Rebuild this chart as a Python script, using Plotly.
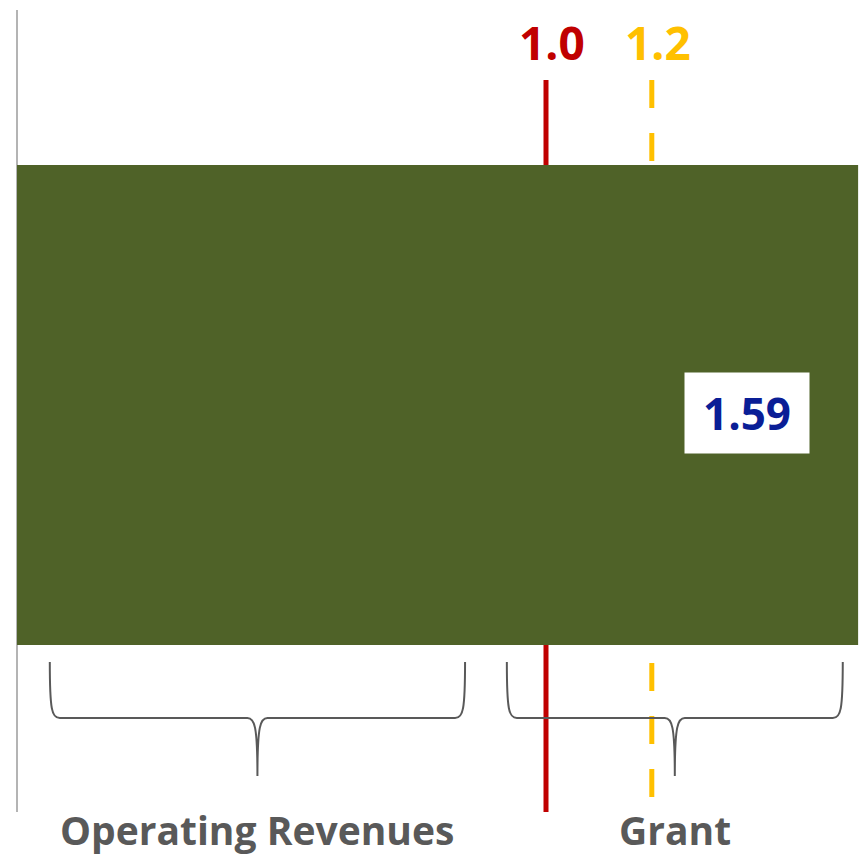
import plotly.graph_objects as go

# data
bar_names = ["Coverage ratio"]
bar_values = [1.59]
thresholds = [1.0, 1.2]
threshold_labels = ["1.0", "1.2"]
threshold_colors = ["#C00000", "#FFC000"]
threshold_dash = ["solid", "28px,25px"]
groups = ["Operating Revenues", "Grant"]
group_start = [0.062, 0.926]
group_end = [0.847, 1.561]

W, H = 859, 858
X0_PX, UNIT_PX = 17, 529          # pixel of x=0, pixels per unit
BAR_CENTER_PX = 405


def px_x(p):
    return (p - X0_PX) / UNIT_PX


def px_y(p):
    # y axis in pixel units, positive upward, 0 at bar centre
    return BAR_CENTER_PX - p


def brace_path(a, b, top, mid, bottom):
    r = 10 / UNIT_PX
    c = (a + b) / 2
    yt, ym, yb = px_y(top), px_y(mid), px_y(bottom)
    return (
        f"M {a},{yt} C {a},{ym + 8} {a + r * 0.2},{ym} {a + r},{ym} "
        f"L {c - r},{ym} C {c - r * 0.3},{ym} {c},{ym - 7} {c},{yb} "
        f"C {c},{ym - 7} {c + r * 0.3},{ym} {c + r},{ym} "
        f"L {b - r},{ym} C {b - r * 0.2},{ym} {b},{ym + 8} {b},{yt}"
    )


fig = go.Figure(go.Bar(
    x=bar_values,
    y=[0],
    orientation="h",
    width=480,
    marker=dict(color="#4F6228", line=dict(width=0)),
    hoverinfo="skip",
    name=bar_names[0],
))

shapes = []
# y axis line at x=0
shapes.append(dict(type="line", xref="x", yref="y", x0=0, x1=0,
                   y0=px_y(10), y1=px_y(812), layer="below",
                   line=dict(color="#B4B4B4", width=2)))
for t, c, d in zip(thresholds, threshold_colors, threshold_dash):
    shapes.append(dict(type="line", xref="x", yref="y", x0=t, x1=t,
                       y0=px_y(80), y1=px_y(812), layer="below",
                       line=dict(color=c, width=5, dash=d)))
for a, b in zip(group_start, group_end):
    shapes.append(dict(type="path", xref="x", yref="y", layer="above",
                       path=brace_path(a, b, 662, 718, 776),
                       line=dict(color="#595959", width=2)))

annotations = []
for t, lab, c in zip(thresholds, threshold_labels, threshold_colors):
    annotations.append(dict(x=t, y=px_y(42), xref="x", yref="y", text=lab,
                            showarrow=False, xshift=6,
                            font=dict(family="Open Sans", size=46, color=c, weight="bold")))
annotations.append(dict(x=px_x(747), y=px_y(413), xref="x", yref="y",
                        text=f"{bar_values[0]:.2f}", showarrow=False,
                        bgcolor="white", borderpad=10, width=104,
                        font=dict(family="Open Sans", size=44, color="#0A1E96", weight="bold")))
for g, a, b in zip(groups, group_start, group_end):
    annotations.append(dict(x=(a + b) / 2, y=px_y(829), xref="x", yref="y", text=g,
                            showarrow=False,
                            font=dict(family="Open Sans", size=39, color="#595959", weight="bold")))

fig.update_layout(
    width=W, height=H,
    margin=dict(l=0, r=0, t=0, b=0),
    paper_bgcolor="white",
    plot_bgcolor="rgba(0,0,0,0)",
    showlegend=False,
    xaxis=dict(range=[px_x(0), px_x(W)], visible=False, fixedrange=True),
    yaxis=dict(range=[px_y(H), px_y(0)], visible=False, fixedrange=True),
    shapes=shapes,
    annotations=annotations,
)

# drop the default body margin so the figure fills the window
fig.write_html("out.html", config={"displayModeBar": False},
               post_script="document.body.style.margin='0';document.body.style.overflow='hidden';")
